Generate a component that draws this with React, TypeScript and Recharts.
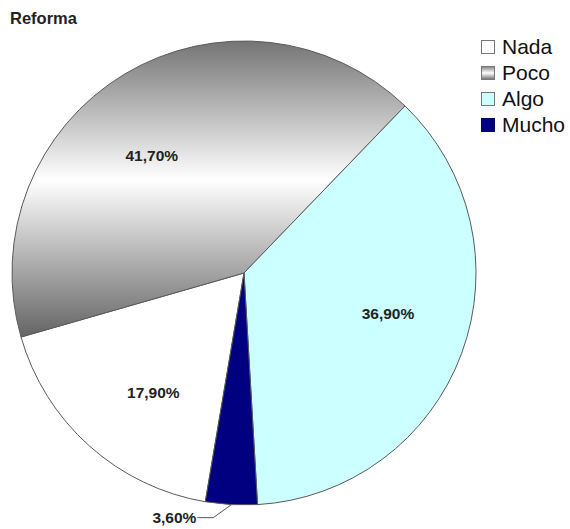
import React from 'react';
import { PieChart, Pie, Cell, Legend } from 'recharts';

const title = 'Reforma';
const categories = ['Nada', 'Poco', 'Algo', 'Mucho'];
const values = [17.9, 41.7, 36.9, 3.6];
const valueLabels = ['17,90%', '41,70%', '36,90%', '3,60%'];
const fills = ['#ffffff', 'url(#pocoGrad)', '#ccffff', '#000080'];

const data = categories.map((name, i) => ({ name, value: values[i], label: valueLabels[i] }));

const FONT = 'Arial, "Liberation Sans", Helvetica, sans-serif';
const RAD = Math.PI / 180;

const renderLabel = (props: any) => {
  const { cx, cy, midAngle, outerRadius, index } = props;
  if (values[index] < 5) {
    const ex = cx + outerRadius * Math.cos(-midAngle * RAD);
    const ey = cy + outerRadius * Math.sin(-midAngle * RAD);
    const mx = ex - 18;
    const my = ey + 13;
    const tx = mx - 16;
    return (
      <g>
        <polyline points={`${ex},${ey} ${mx},${my} ${tx},${my}`} fill="none" stroke="#555" strokeWidth={1} />
        <text x={tx - 1} y={my} textAnchor="end" dominantBaseline="central" fontFamily={FONT} fontWeight="bold" fontSize={15.5} fill="#222">
          {valueLabels[index]}
        </text>
      </g>
    );
  }
  const r = outerRadius * 0.645;
  const a = midAngle + (index === 1 ? 7 : 4.5);
  const x = cx + r * Math.cos(-a * RAD);
  const y = cy + r * Math.sin(-a * RAD);
  return (
    <text x={x} y={y} textAnchor="middle" dominantBaseline="central" fontFamily={FONT} fontWeight="bold" fontSize={15.5} fill="#222">
      {valueLabels[index]}
    </text>
  );
};

const legendIconBg = [
  '#ffffff',
  'linear-gradient(to bottom, #8a8a8a 0%, #ffffff 50%, #7a7a7a 100%)',
  '#ccffff',
  '#000080',
];

const renderLegend = () => (
  <div style={{ fontFamily: FONT }}>
    {categories.map((c, i) => (
      <div key={c} style={{ display: 'flex', alignItems: 'center', height: 26 }}>
        <div
          style={{
            width: 14,
            height: 14,
            boxSizing: 'border-box',
            border: i === 3 ? '1px solid #000060' : '1px solid #777',
            background: legendIconBg[i],
            marginRight: 7,
          }}
        />
        <span style={{ fontSize: 21, lineHeight: '26px', color: '#111' }}>{c}</span>
      </div>
    ))}
  </div>
);

export default function App() {
  return (
    <div style={{ position: 'absolute', left: 0, top: 0, width: 570, height: 529, background: '#fff' }}>
      <div
        style={{
          position: 'absolute',
          left: 10,
          top: 10,
          fontFamily: FONT,
          fontWeight: 'bold',
          fontSize: 16.5,
          lineHeight: '17px',
          color: '#222',
        }}
      >
        {title}
      </div>
      <PieChart width={570} height={529} margin={{ top: 0, right: 0, bottom: 0, left: 0 }}>
        <defs>
          <linearGradient id="pocoGrad" x1="0" y1="0" x2="0" y2="1">
            <stop offset="0%" stopColor="#747474" />
            <stop offset="47%" stopColor="#ffffff" />
            <stop offset="100%" stopColor="#646464" />
          </linearGradient>
        </defs>
        <Pie
          data={data}
          dataKey="value"
          nameKey="name"
          cx={244}
          cy={273}
          outerRadius={232}
          startAngle={260.4}
          endAngle={-99.6}
          stroke="#5a5a5a"
          strokeWidth={1}
          label={renderLabel}
          labelLine={false}
          isAnimationActive={false}
        >
          {data.map((d, i) => (
            <Cell key={d.name} fill={fills[i]} />
          ))}
        </Pie>
        <Legend
          layout="vertical"
          align="right"
          verticalAlign="top"
          content={renderLegend}
          wrapperStyle={{ position: 'absolute', top: 34, left: 481, width: 89 }}
        />
      </PieChart>
    </div>
  );
}
